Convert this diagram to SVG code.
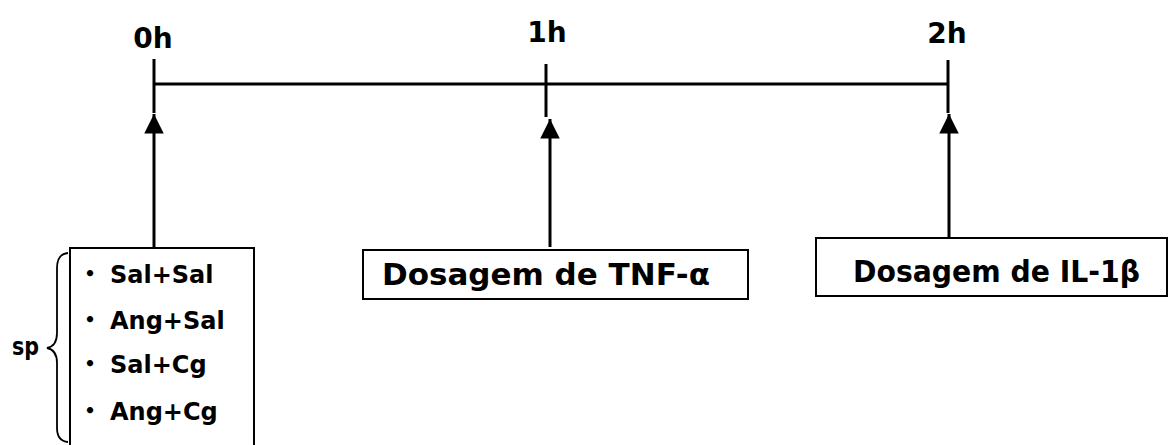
<svg xmlns="http://www.w3.org/2000/svg" width="1170" height="445" viewBox="0 0 1170 445">
<style>
  text { font-family: "DejaVu Sans", "Liberation Sans", sans-serif; font-weight: bold; fill: #000; }
  .time { font-size: 28px; text-anchor: middle; }
  .item { font-size: 24px; }
  .bul { font-size: 18px; text-anchor: middle; }
  .lab { font-size: 30px; }
  .box { fill: #fff; stroke: #000; stroke-width: 2; }
  .line { stroke: #000; stroke-width: 3; fill: none; }
</style>
<defs>
  <marker id="ah" viewBox="0 0 10 10" refX="10" refY="5" markerWidth="6.5" markerHeight="6.5" markerUnits="strokeWidth" orient="auto">
    <path d="M0,0 L10,5 L0,10 Z" fill="#000"/>
  </marker>
</defs>
<rect width="1170" height="445" fill="#fff"/>

<g id="timeline">
  <line class="line" x1="154" y1="84" x2="948" y2="84"/>
  <line class="line" x1="154" y1="59" x2="154" y2="113"/>
  <line class="line" x1="546" y1="64" x2="546" y2="117"/>
  <line class="line" x1="948" y1="60" x2="948" y2="113"/>
  <text class="time" x="153" y="48">0h</text>
  <text class="time" x="547" y="42">1h</text>
  <text class="time" x="947" y="43">2h</text>
</g>

<g id="connectors">
  <line class="line" x1="154" y1="247" x2="154" y2="114" marker-end="url(#ah)"/>
  <line class="line" x1="550" y1="247" x2="550" y2="119" marker-end="url(#ah)"/>
  <line class="line" x1="949" y1="238" x2="949" y2="114" marker-end="url(#ah)"/>
</g>

<g id="groups">
  <rect class="box" x="70" y="248" width="184" height="210"/>
  <text class="bul" x="90" y="280">•</text>
  <text class="item" x="110" y="283">Sal+Sal</text>
  <text class="bul" x="90" y="326">•</text>
  <text class="item" x="110" y="329">Ang+Sal</text>
  <text class="bul" x="90" y="370">•</text>
  <text class="item" x="110" y="373">Sal+Cg</text>
  <text class="bul" x="90" y="417">•</text>
  <text class="item" x="110" y="420">Ang+Cg</text>
</g>

<g id="sp">
  <path d="M68,253 Q57,254 57,268 L57,333 Q57,346 47,348 Q57,350 57,363 L57,428 Q57,441 68,442" fill="none" stroke="#000" stroke-width="1.8"/>
  <text class="item" x="12" y="355" textLength="27" lengthAdjust="spacingAndGlyphs">sp</text>
</g>

<g id="tnf">
  <rect class="box" x="363" y="250" width="385" height="49"/>
  <text class="lab" x="382" y="285" textLength="328" lengthAdjust="spacingAndGlyphs">Dosagem de TNF-α</text>
</g>

<g id="il1b">
  <rect class="box" x="816" y="238" width="351" height="58"/>
  <text class="lab" x="853" y="282" textLength="287" lengthAdjust="spacingAndGlyphs">Dosagem de IL-1β</text>
</g>
</svg>
